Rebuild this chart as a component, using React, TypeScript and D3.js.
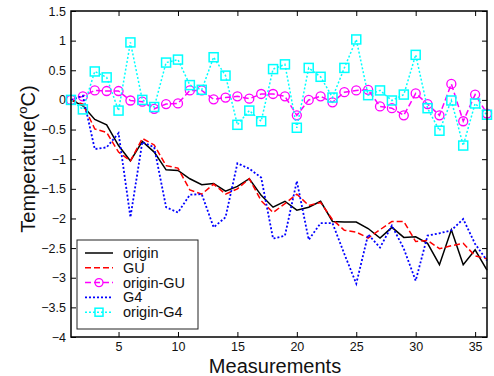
import * as d3 from "d3";
import React, { useEffect, useRef } from "react";

// measurement index 1..36
const measurements = d3.range(1, 37);

const origin = [0, -0.1, -0.33, -0.42, -0.77, -1.03, -0.7, -0.88, -1.18, -1.19, -1.33, -1.43, -1.41, -1.54, -1.46, -1.33, -1.61, -1.81, -1.71, -1.86, -1.81, -1.71, -2.05, -2.06, -2.06, -2.17, -2.33, -2.15, -2.32, -2.31, -2.42, -2.78, -2.19, -2.78, -2.53, -2.87];
const gu = [0, -0.07, -0.49, -0.55, -0.88, -1.03, -0.65, -0.76, -1.11, -1.15, -1.52, -1.59, -1.42, -1.59, -1.5, -1.33, -1.7, -1.9, -1.75, -1.59, -1.78, -1.73, -2.02, -2.2, -2.23, -2.33, -2.19, -2.05, -2.05, -2.39, -2.37, -2.51, -2.46, -2.42, -2.63, -2.68];
const originGu = [0, 0.06, 0.16, 0.15, 0.15, -0.01, -0.03, -0.15, -0.07, -0.06, 0.16, 0.16, 0.01, 0.04, 0.06, 0.02, 0.1, 0.1, 0.06, -0.26, 0, 0.06, -0.04, 0.13, 0.16, 0.17, -0.11, -0.14, -0.26, 0.11, -0.07, -0.26, 0.27, -0.36, 0.09, -0.23];
const g4 = [0, 0.07, -0.83, -0.8, -0.56, -1.98, -0.71, -0.8, -1.81, -1.9, -1.6, -1.59, -2.15, -1.98, -1.07, -1.16, -1.31, -2.34, -2.29, -1.37, -2.36, -2.08, -2.08, -2.6, -3.1, -2.27, -2.49, -2.12, -2.51, -3.05, -2.29, -2.25, -2.2, -2.01, -2.43, -2.71];
const originG4 = [0, -0.16, 0.48, 0.38, -0.18, 0.97, 0, -0.12, 0.63, 0.68, 0.25, 0.17, 0.72, 0.41, -0.42, -0.18, -0.36, 0.52, 0.6, -0.47, 0.54, 0.39, 0.04, 0.54, 1.02, 0.08, 0.16, -0.01, 0.09, 0.76, -0.14, -0.52, -0.01, -0.77, -0.06, -0.25];

const seriesNames = ["origin", "GU", "origin-GU", "G4", "origin-G4"];
const seriesValues = [origin, gu, originGu, g4, originG4];

const xTicks = [5, 10, 15, 20, 25, 30, 35];
const yTicks = [1.5, 1, 0.5, 0, -0.5, -1, -1.5, -2, -2.5, -3, -3.5, -4];

// line styles, same order as seriesNames
const styles = [
  { color: "#000000", dash: null, width: 1.5, marker: null },
  { color: "#ff0000", dash: "6,3", width: 1.5, marker: null },
  { color: "#ff00ff", dash: "6,3", width: 1.5, marker: "circle" },
  { color: "#0000ff", dash: "2,2", width: 1.8, marker: null },
  { color: "#00ffff", dash: "2,2", width: 1.5, marker: "square" },
];

const FONT = "'Liberation Sans', Arial, sans-serif";

export default function App() {
  const svgRef = useRef<SVGSVGElement | null>(null);
  const width = 494;
  const height = 376;
  const margin = { top: 11, right: 7, bottom: 39, left: 71 };

  useEffect(() => {
    const svgEl = d3.select(svgRef.current);
    svgEl.selectAll("*").remove();

    svgEl.append("rect").attr("width", width).attr("height", height).attr("fill", "#fff");

    const x = d3.scaleLinear().domain([1, 36]).range([margin.left, width - margin.right]);
    const y = d3.scaleLinear().domain([-4, 1.5]).range([height - margin.bottom, margin.top]);

    const styleAxis = (g) => {
      g.select(".domain").remove();
      g.selectAll("line").attr("stroke", "#000").attr("stroke-width", 1);
      g.selectAll("text").attr("font-family", FONT).attr("font-size", 12.5).attr("fill", "#111");
    };

    // axes, ticks pointing inwards like matlab
    svgEl
      .append("g")
      .attr("transform", "translate(0," + y(-4) + ")")
      .call(d3.axisBottom(x).tickValues(xTicks).tickSizeInner(-5).tickSizeOuter(0).tickPadding(5))
      .call(styleAxis);
    svgEl
      .append("g")
      .attr("transform", "translate(0," + y(1.5) + ")")
      .call(d3.axisTop(x).tickValues(xTicks).tickSizeInner(-5).tickSizeOuter(0).tickFormat(() => ""))
      .call(styleAxis);
    svgEl
      .append("g")
      .attr("transform", "translate(" + x(1) + ",0)")
      .call(d3.axisLeft(y).tickValues(yTicks).tickSizeInner(-5).tickSizeOuter(0).tickPadding(5).tickFormat(d3.format("")))
      .call(styleAxis);
    svgEl
      .append("g")
      .attr("transform", "translate(" + x(36) + ",0)")
      .call(d3.axisRight(y).tickValues(yTicks).tickSizeInner(-5).tickSizeOuter(0).tickFormat(() => ""))
      .call(styleAxis);

    // series
    const plot = svgEl.append("g");
    seriesValues.forEach((vals, i) => {
      const st = styles[i];
      const pts = measurements.map((m, j) => [m, vals[j]]);
      const line = d3
        .line()
        .x((d) => x(d[0]))
        .y((d) => y(d[1]));
      plot
        .append("path")
        .datum(pts)
        .attr("d", line)
        .attr("fill", "none")
        .attr("stroke", st.color)
        .attr("stroke-width", st.width)
        .attr("stroke-dasharray", st.dash);

      if (st.marker == "circle") {
        plot
          .selectAll(".c" + i)
          .data(pts)
          .enter()
          .append("circle")
          .attr("cx", (d) => x(d[0]))
          .attr("cy", (d) => y(d[1]))
          .attr("r", 4.5)
          .attr("fill", "none")
          .attr("stroke", st.color)
          .attr("stroke-width", 1.3);
      }
      if (st.marker == "square") {
        plot
          .selectAll(".s" + i)
          .data(pts)
          .enter()
          .append("rect")
          .attr("x", (d) => x(d[0]) - 4.5)
          .attr("y", (d) => y(d[1]) - 4.5)
          .attr("width", 9)
          .attr("height", 9)
          .attr("fill", "none")
          .attr("stroke", st.color)
          .attr("stroke-width", 1.5);
      }
    });

    // box
    svgEl
      .append("rect")
      .attr("x", x(1))
      .attr("y", y(1.5))
      .attr("width", x(36) - x(1))
      .attr("height", y(-4) - y(1.5))
      .attr("fill", "none")
      .attr("stroke", "#000")
      .attr("stroke-width", 1.5);

    // legend
    const lg = svgEl.append("g").attr("transform", "translate(77,240)");
    lg.append("rect")
      .attr("width", 121)
      .attr("height", 89)
      .attr("fill", "#fff")
      .attr("stroke", "#222")
      .attr("stroke-width", 1);
    seriesNames.forEach((name, i) => {
      const st = styles[i];
      const ly = 13 + i * 14.8;
      lg.append("line")
        .attr("x1", 8)
        .attr("x2", 36)
        .attr("y1", ly)
        .attr("y2", ly)
        .attr("stroke", st.color)
        .attr("stroke-width", st.width)
        .attr("stroke-dasharray", st.dash);
      if (st.marker == "circle") {
        lg.append("circle").attr("cx", 22).attr("cy", ly).attr("r", 4).attr("fill", "none").attr("stroke", st.color).attr("stroke-width", 1.3);
      }
      if (st.marker == "square") {
        lg.append("rect").attr("x", 18).attr("y", ly - 4).attr("width", 8).attr("height", 8).attr("fill", "none").attr("stroke", st.color).attr("stroke-width", 1.5);
      }
      lg.append("text")
        .attr("x", 46)
        .attr("y", ly)
        .attr("dy", "0.35em")
        .attr("font-family", FONT)
        .attr("font-size", 14.5)
        .attr("fill", "#111")
        .text(name);
    });

    // axis labels
    svgEl
      .append("text")
      .attr("x", 275)
      .attr("y", 373)
      .attr("text-anchor", "middle")
      .attr("font-family", FONT)
      .attr("font-size", 20)
      .attr("fill", "#111")
      .text("Measurements");

    const yl = svgEl
      .append("text")
      .attr("transform", "translate(35,159) rotate(-90)")
      .attr("text-anchor", "middle")
      .attr("font-family", FONT)
      .attr("font-size", 20)
      .attr("fill", "#111");
    yl.append("tspan").text("Temperature(");
    yl.append("tspan").attr("font-size", 13).attr("dy", -8).text("o");
    yl.append("tspan").attr("dy", 8).text("C)");
  });

  return (
    <div style={{ position: "absolute", left: 0, top: 0 }}>
      <svg width={width} height={height} ref={svgRef} style={{ display: "block" }}></svg>
    </div>
  );
}
